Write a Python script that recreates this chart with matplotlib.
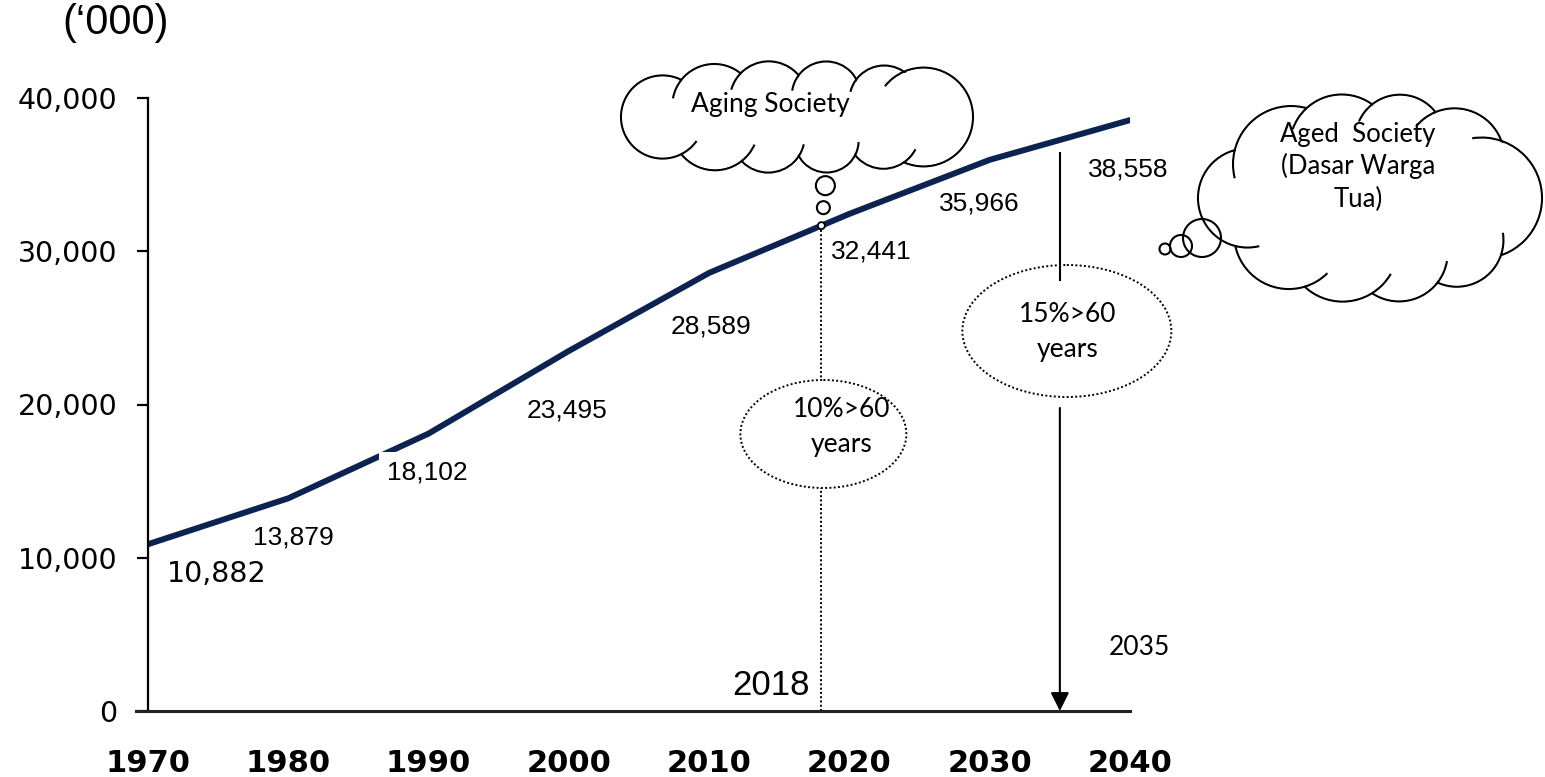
import numpy as np
import matplotlib.pyplot as plt
from matplotlib.patches import Circle, Ellipse, Arc

# population ('000) by year
years = [1970, 1980, 1990, 2000, 2010, 2020, 2030, 2040]
population = [10882, 13879, 18102, 23495, 28589, 32441, 35966, 38558]
pop_labels = ['10,882', '13,879', '18,102', '23,495', '28,589', '32,441', '35,966', '38,558']
year_labels = ['1970', '1980', '1990', '2000', '2010', '2020', '2030', '2040']
y_ticks = [0, 10000, 20000, 30000, 40000]
y_tick_labels = ['0', '10,000', '20,000', '30,000', '40,000']

aging_year = 2018   # 10% of population over 60
aged_year = 2035    # 15% of population over 60

# where each value label sits relative to its point (pixels)
label_offsets = [(69, -38), (5, -46), (-1, -46), (-2, -67), (2, -61), (22, -45), (-10, -51), (-2, -56)]

NAVY = '#0c2352'
CAL = 'Lato'
W, H = 1545, 777

fig = plt.figure(figsize=(W / 100, H / 100), dpi=100)
ax = fig.add_axes([148 / W, 1 - 711 / H, 982 / W, 613 / H])
ax.set_xlim(1970, 2040)
ax.set_ylim(0, 40000)
ax.patch.set_visible(False)

ax.plot(years, population, color=NAVY, lw=4.3, solid_joinstyle='round', zorder=2)

for i, (x, y, s) in enumerate(zip(years, population, pop_labels)):
    kw = dict(family='Liberation Sans', fontsize=19)
    if i == 0:
        kw = dict(family='DejaVu Sans', fontsize=20.5)
    if i == 2:
        kw['bbox'] = dict(fc='white', ec='none', pad=6)
    ax.annotate(s, (x, y), xytext=label_offsets[i], textcoords='offset pixels',
                ha='center', va='baseline', zorder=4, **kw)

for s in ['top', 'right', 'bottom']:
    ax.spines[s].set_visible(False)
ax.spines['left'].set_linewidth(1.6)
ax.set_yticks(y_ticks, y_tick_labels, family='DejaVu Sans', fontsize=20.5)
ax.tick_params(axis='y', length=8, width=1.6, pad=14)
ax.set_xticks(years, year_labels, family='DejaVu Sans', fontsize=22, fontweight='bold')
ax.tick_params(axis='x', length=0, pad=27)

# 2018 marker line from the curve down to the axis
v_aging = np.interp(aging_year, years, population)
ax.plot([aging_year, aging_year], [0, v_aging], color='black', lw=1.4,
        ls=(0, (1, 1.2)), zorder=1)

# overlay in pixel units for the callouts
ov = fig.add_axes([0, 0, 1, 1], zorder=5)
ov.set_xlim(0, W)
ov.set_ylim(H, 0)
ov.axis('off')


def px(x, y):
    return ov.transData.inverted().transform(ax.transData.transform((x, y)))


x0, y0 = px(1970, 0)
x1, _ = px(2040, 0)
ov.plot([x0 - 12, x1], [y0, y0], color='#222222', lw=2.2, zorder=1)


def cloud(cx, cy, a, b, n, r, ph=0.7, ends=0.25):
    t = np.linspace(0, 2 * np.pi, 721)
    ex, ey = (a - r) * np.cos(t), (b - r) * np.sin(t)
    s = np.concatenate([[0], np.cumsum(np.hypot(np.diff(ex), np.diff(ey)))])
    tk = np.interp(np.linspace(0, s[-1], n, endpoint=False), s, t)
    rk = r * (1 + ends * np.cos(tk) ** 2 + 0.12 * np.sin(3 * tk + ph))
    cxs = cx + (a - rk) * np.cos(tk)
    cys = cy + (b - rk) * np.sin(tk)
    for x, y, rr in zip(cxs, cys, rk):
        ov.add_patch(Circle((x, y), rr, fc='white', ec='black', lw=1.5, zorder=2))
    for x, y, rr in zip(cxs, cys, rk):
        ov.add_patch(Circle((x, y), rr - 1.5, fc='white', ec='none', zorder=3))
    ov.add_patch(Ellipse((cx, cy), 2 * (a - r), 2 * max(b - r, 5), fc='white', ec='none', zorder=3))
    # little curls where neighbouring bumps meet
    for i in range(n):
        j = (i + 1) % n
        c0 = np.array([cxs[i], cys[i]])
        c1 = np.array([cxs[j], cys[j]])
        r0, r1 = rk[i], rk[j]
        d = np.hypot(*(c1 - c0))
        if d >= r0 + r1 or d <= abs(r0 - r1):
            continue
        m = (r0 ** 2 - r1 ** 2 + d ** 2) / (2 * d)
        h = np.sqrt(r0 ** 2 - m ** 2)
        u = (c1 - c0) / d
        base = c0 + m * u
        perp = np.array([-u[1], u[0]])
        p = max([base + h * perp, base - h * perp], key=lambda q: np.hypot(q[0] - cx, q[1] - cy))
        t0 = np.degrees(np.arctan2(p[1] - c1[1], p[0] - c1[0]))
        g = np.degrees(np.arctan2(c0[1] - c1[1], c0[0] - c1[0]))
        delta = (g - t0 + 180) % 360 - 180
        span = min(28, 0.7 * abs(delta))
        th1, th2 = (t0, t0 + span) if delta > 0 else (t0 - span, t0)
        ov.add_patch(Arc(tuple(c1), 2 * r1, 2 * r1, theta1=th1, theta2=th2,
                         color='black', lw=1.5, zorder=4))


# "Aging Society" thought cloud
cloud(797, 117, 176, 56, 10, 35, ph=1.2, ends=0.3)
ov.text(770, 112, 'Aging Society', family=CAL, fontsize=19, ha='center', va='baseline', zorder=6)

ax_, ay_ = px(aging_year, v_aging)
ov.add_patch(Circle((ax_, ay_), 3.5, fc='white', ec='black', lw=1.3, zorder=6))
ov.add_patch(Circle((ax_ + 2, ay_ - 18), 6.5, fc='white', ec='black', lw=1.5, zorder=6))
ov.add_patch(Circle((ax_ + 4, ay_ - 40), 9.5, fc='white', ec='black', lw=1.5, zorder=6))

# "Aged Society" thought cloud
cloud(1370, 198, 172, 105, 10, 50, ph=2.0, ends=0.1)
for tx, ty, s in [(1358, 142, 'Aged  Society'), (1358, 174, '(Dasar Warga'), (1358, 207, 'Tua)')]:
    ov.text(tx, ty, s, family=CAL, fontsize=18.5, ha='center', va='baseline', zorder=6)
for cx_, cy_, rr in [(1165, 249, 5.5), (1181, 246, 11), (1202, 238, 19)]:
    ov.add_patch(Circle((cx_, cy_), rr, fill=False, ec='black', lw=1.5, zorder=6))

# 10% ellipse on the 2018 line
ov.add_patch(Ellipse((ax_ + 2, 434), 166, 108, fc='white', ec='black', lw=1.4,
                     ls=(0, (1, 1.2)), zorder=5))
ov.text(ax_ + 20, 417, '10%>60', family=CAL, fontsize=19, ha='center', va='baseline', zorder=6)
ov.text(ax_ + 20, 452, 'years', family=CAL, fontsize=19, ha='center', va='baseline', zorder=6)
ov.text(ax_ - 12, 695, str(aging_year), family='Liberation Sans', fontsize=25,
        ha='right', va='baseline', zorder=6)

# 15% ellipse and arrow down to 2035
bx, by = px(aged_year, 0)
ov.add_patch(Ellipse((bx + 7, 331), 209, 132, fc='white', ec='black', lw=1.4,
                     ls=(0, (1, 1.2)), zorder=5))
ov.plot([bx, bx], [153, 280], color='black', lw=1.5, zorder=6)
ov.annotate('', xy=(bx, by), xytext=(bx, 408),
            arrowprops=dict(arrowstyle='-|>,head_length=0.8,head_width=0.4', color='black',
                            lw=1.5, mutation_scale=14, shrinkA=0, shrinkB=0), zorder=6)
ov.text(bx + 8, 322, '15%>60', family=CAL, fontsize=19, ha='center', va='baseline', zorder=6)
ov.text(bx + 8, 357, 'years', family=CAL, fontsize=19, ha='center', va='baseline', zorder=6)
ov.text(bx + 80, 655, str(aged_year), family=CAL, fontsize=19, ha='center', va='baseline', zorder=6)

fig.text(62 / W, 1 - 34 / H, "(\u2018000)", family='Liberation Sans', fontsize=30,
         ha='left', va='baseline')

fig.savefig('out.png', dpi=100)
